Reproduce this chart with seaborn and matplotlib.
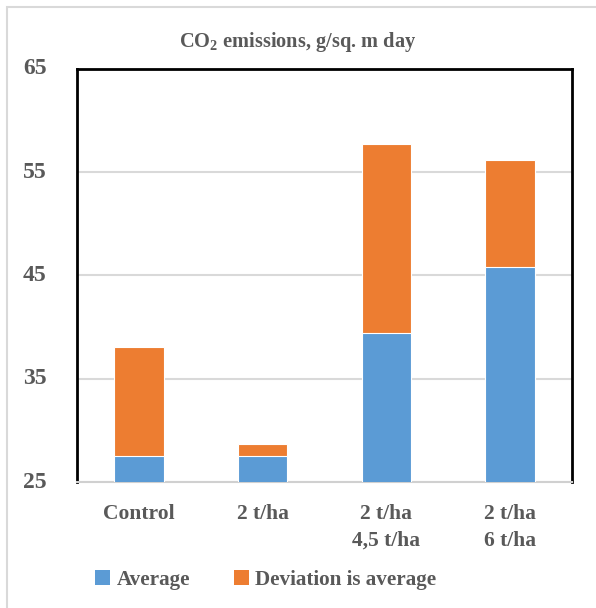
import matplotlib
matplotlib.use("Agg")
import matplotlib.pyplot as plt
import seaborn as sns
import pandas as pd
from matplotlib.patches import Rectangle, Patch

# Treatment groups and measured CO2 emissions (g/sq. m day)
categories = ["Control", "2 t/ha", "2 t/ha\n4,5 t/ha", "2 t/ha\n6 t/ha"]
average = [27.55, 27.5, 39.4, 45.8]
deviation = [10.5, 1.2, 18.3, 10.4]
totals = [a + d for a, d in zip(average, deviation)]

df = pd.DataFrame({"group": categories, "average": average, "total": totals})

sns.set_theme(style="white")
plt.rcParams["font.family"] = ["Liberation Serif", "DejaVu Serif"]
plt.rcParams["font.weight"] = "bold"

text_color = "#595959"
blue = "#5b9bd5"
orange = "#ed7d31"

fig = plt.figure(figsize=(5.96, 6.08), dpi=100)
ax = fig.add_axes([77 / 596, 1 - 482 / 608, (572 - 77) / 596, (482 - 69) / 608])

# Stacked bars: full height in orange, average portion in blue on top of it
sns.barplot(data=df, x="group", y="total", color=orange, saturation=1,
            width=0.4, edgecolor="white", linewidth=0.8, ax=ax, zorder=2)
sns.barplot(data=df, x="group", y="average", color=blue, saturation=1,
            width=0.4, edgecolor="white", linewidth=0.8, ax=ax, zorder=3)

ax.set_ylim(25, 65)
ax.set_yticks([25, 35, 45, 55, 65])
ax.set_xlabel("")
ax.set_ylabel("")
ax.yaxis.grid(True, color="#d9d9d9", linewidth=1.5, zorder=0)
ax.set_axisbelow(True)

for side in ["left", "top", "right"]:
    ax.spines[side].set_color("black")
    ax.spines[side].set_linewidth(2)
ax.spines["bottom"].set_color("#d0d0d0")
ax.spines["bottom"].set_linewidth(1.5)

ax.tick_params(axis="both", length=0, colors=text_color)
ax.tick_params(axis="y", pad=22, labelsize=17)
ax.tick_params(axis="x", pad=16, labelsize=15.5)
for lbl in ax.get_xticklabels() + ax.get_yticklabels():
    lbl.set_fontweight("bold")
    lbl.set_color(text_color)
for lbl in ax.get_xticklabels():
    lbl.set_linespacing(1.45)
for lbl in ax.get_yticklabels():
    lbl.set_verticalalignment("center")

fig.text(0.5, 1 - 42 / 608, r"CO$_\mathregular{2}$ emissions, g/sq. m day",
         ha="center", va="center", fontsize=14.7, fontweight="bold",
         color=text_color)

handles = [Patch(facecolor=blue, edgecolor="none", label="Average"),
           Patch(facecolor=orange, edgecolor="none", label="Deviation is average")]
leg = fig.legend(handles=handles, loc="center", bbox_to_anchor=(266 / 596, 1 - 580 / 608),
                 ncol=2, frameon=False, fontsize=15.2, handlelength=0.7,
                 handleheight=0.7, handletextpad=0.3, columnspacing=2.1)
for t in leg.get_texts():
    t.set_color(text_color)
    t.set_fontweight("bold")

# Light outer frame around the chart
fig.patches.append(Rectangle((6.5 / 596, -0.1), 1.2, 1.1 - 6.5 / 608,
                             transform=fig.transFigure, fill=False,
                             edgecolor="#d9d9d9", linewidth=1.5))

fig.savefig("out.png", dpi=100)
